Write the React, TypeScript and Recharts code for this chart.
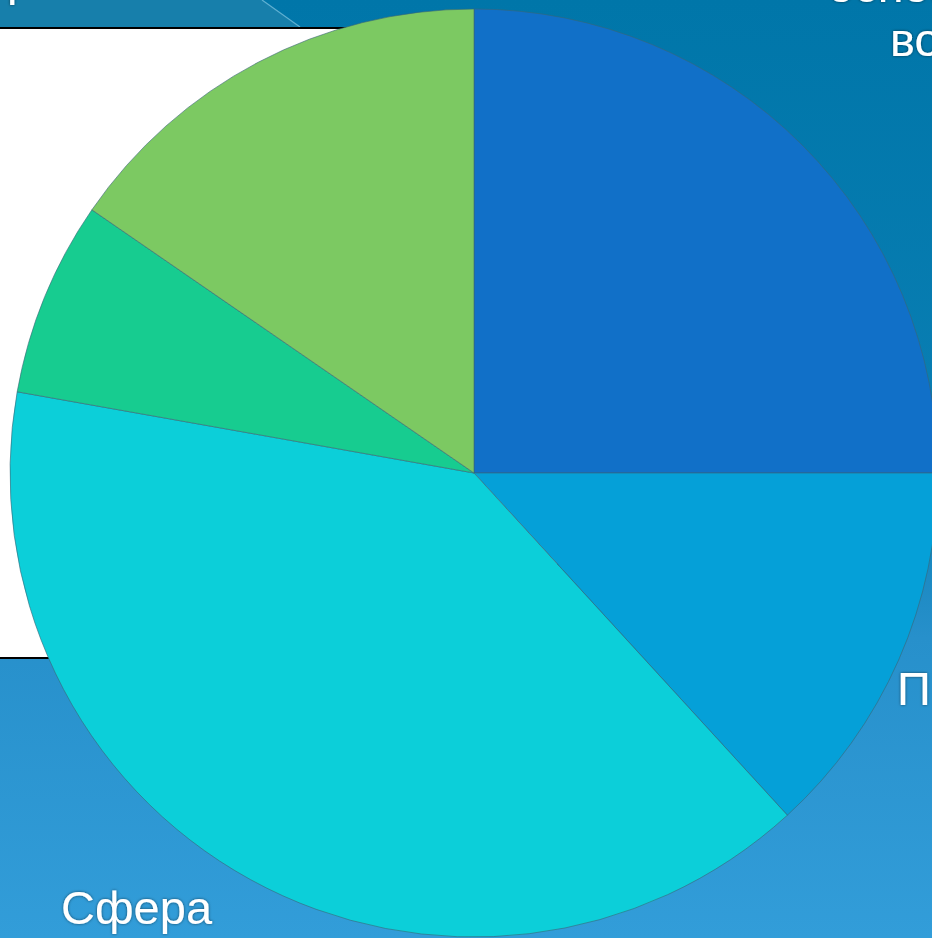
import React from 'react';
import { PieChart, Pie, Cell } from 'recharts';

const segments = ['Сегмент 1', 'Сегмент 2', 'Сфера', 'Сегмент 4', 'Сегмент 5'];
const shares = [25, 13.2, 39.6, 6.8, 15.4];
const sliceColors = ['#1170c8', '#05a0d8', '#0ccfd9', '#17cc90', '#7cc962'];

const data = segments.map((name, i) => ({ name, value: shares[i] }));

const W = 932;
const H = 938;

const textStyle: React.CSSProperties = {
  fontFamily: '"Liberation Sans", Arial, sans-serif',
  fontSize: 47,
  fill: '#ffffff',
};

const Background = () => (
  <svg width={W} height={H} style={{ position: 'absolute', left: 0, top: 0 }}>
    <defs>
      <linearGradient id="bg" x1="0" y1="0" x2="0" y2="1">
        <stop offset="0%" stopColor="#0076a9" />
        <stop offset="50%" stopColor="#0a7fb4" />
        <stop offset="68%" stopColor="#2790cb" />
        <stop offset="100%" stopColor="#329dd9" />
      </linearGradient>
    </defs>
    <rect x={0} y={0} width={W} height={H} fill="url(#bg)" />
    <polygon points="0,0 262,0 300,27 0,27" fill="#177fab" />
    <line x1={262} y1={0} x2={300} y2={27} stroke="#5fb0d2" strokeWidth={1.2} />
    <rect x={-2} y={28} width={560} height={630} fill="#ffffff" stroke="#000000" strokeWidth={2} />
  </svg>
);

const Labels = () => (
  <svg width={W} height={H} style={{ position: 'absolute', left: 0, top: 0, pointerEvents: 'none' }}>
    <defs>
      <filter id="glow" x="-10%" y="-10%" width="120%" height="120%">
        <feDropShadow dx="0" dy="0" stdDeviation="1.5" floodColor="#000" floodOpacity="0.55" />
      </filter>
    </defs>
    <g filter="url(#glow)">
      <text x={7} y={-5} style={textStyle}>р</text>
      <text x={828} y={2} style={textStyle}>основные</text>
      <text x={890} y={56} style={textStyle}>во</text>
      <text x={897} y={705} style={textStyle}>П</text>
      <text x={61} y={924} style={textStyle}>Сфера</text>
    </g>
  </svg>
);

export default function App() {
  return (
    <div style={{ position: 'absolute', left: 0, top: 0, width: W, height: H, overflow: 'hidden' }}>
      <Background />
      <div style={{ position: 'absolute', left: 0, top: 0 }}>
        <PieChart width={W} height={H} margin={{ top: 0, right: 0, bottom: 0, left: 0 }}>
          <Pie
            data={data}
            dataKey="value"
            nameKey="name"
            cx={474}
            cy={473}
            outerRadius={464}
            startAngle={90}
            endAngle={-270}
            stroke="#3b6577"
            strokeOpacity={0.6}
            strokeWidth={1}
            isAnimationActive={false}
          >
            {data.map((entry, index) => (
              <Cell key={`cell-${index}`} fill={sliceColors[index]} />
            ))}
          </Pie>
        </PieChart>
      </div>
      <Labels />
    </div>
  );
}
